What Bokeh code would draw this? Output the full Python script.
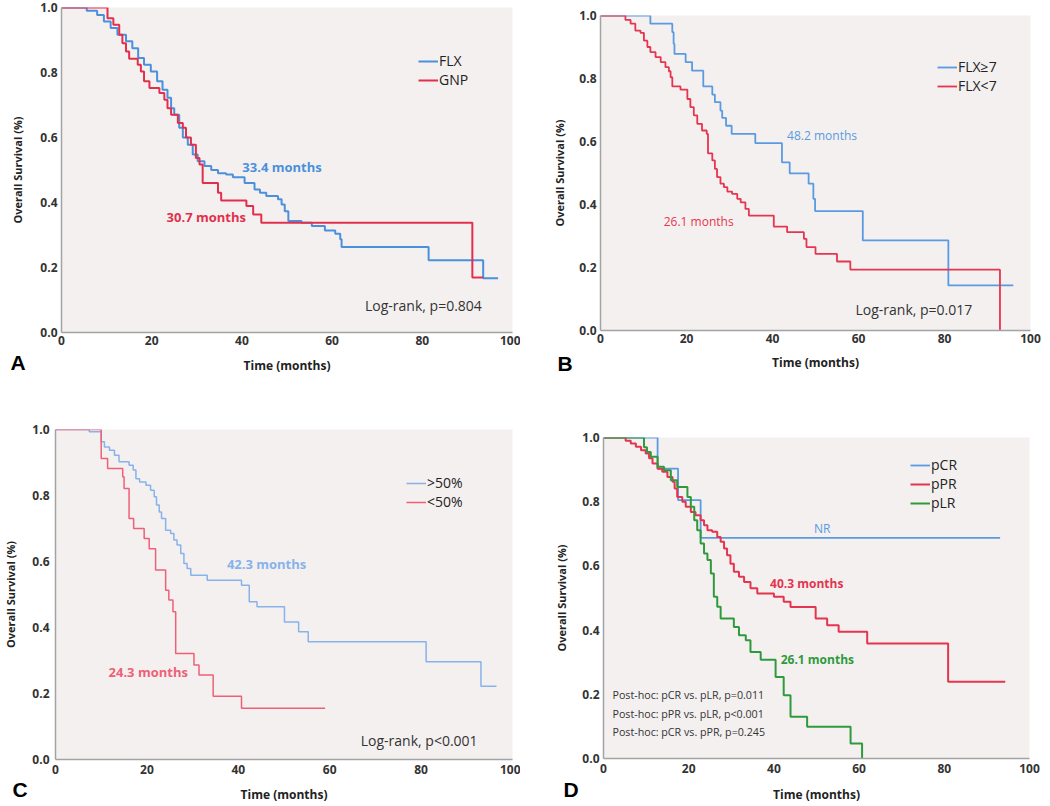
from bokeh.plotting import figure
from bokeh.layouts import column, row
from bokeh.models import Range1d, Label, Legend, LegendItem, FixedTicker, PrintfTickFormatter, Title
from bokeh.embed import file_html
from bokeh.resources import INLINE

# ---------------- data (time in months, survival fraction) ----------------
x_ticks = [0, 20, 40, 60, 80, 100]
y_ticks = [0.0, 0.2, 0.4, 0.6, 0.8, 1.0]

a_flx = [(0, 1.0), (5.6, 0.99), (7.9, 0.977), (9.4, 0.957), (10.9, 0.937), (12.4, 0.916),
         (14.3, 0.896), (15.7, 0.875), (17.0, 0.845), (18.3, 0.824), (19.8, 0.803), (21.2, 0.773),
         (22.4, 0.747), (23.5, 0.722), (24.3, 0.69), (25.0, 0.67), (26.1, 0.63), (26.9, 0.60),
         (28.0, 0.578), (29.1, 0.548), (30.2, 0.527), (31.7, 0.512), (33.2, 0.50), (34.7, 0.49),
         (36.5, 0.486), (38.0, 0.478), (40.6, 0.46), (42.8, 0.44), (44.0, 0.43), (45.4, 0.42),
         (48.0, 0.41), (48.8, 0.394), (49.5, 0.373), (50.3, 0.343), (53.2, 0.338), (55.5, 0.328),
         (58.4, 0.314), (60.7, 0.304), (61.8, 0.287), (62.1, 0.263), (81.4, 0.222), (93.5, 0.167),
         (96.8, 0.167)]
a_gnp = [(0, 1.0), (10.2, 0.967), (11.5, 0.947), (12.8, 0.916), (13.5, 0.89), (14.3, 0.865),
         (15.0, 0.842), (16.9, 0.824), (17.6, 0.803), (18.3, 0.773), (19.5, 0.752), (21.7, 0.737),
         (22.8, 0.716), (23.5, 0.69), (24.3, 0.67), (25.8, 0.645), (26.9, 0.63), (27.6, 0.60),
         (28.7, 0.578), (29.8, 0.537), (30.6, 0.517), (31.3, 0.46), (34.7, 0.43), (35.4, 0.406),
         (41.0, 0.389), (42.5, 0.363), (44.3, 0.338), (91.1, 0.169), (93.5, 0.169)]

b_hi = [(0, 1.0), (11.6, 0.974), (16.7, 0.947), (17.0, 0.91), (17.2, 0.878), (19.8, 0.852),
        (21.3, 0.825), (23.9, 0.775), (26.0, 0.749), (26.6, 0.725), (27.9, 0.698), (28.3, 0.675),
        (29.2, 0.65), (30.5, 0.624), (36.0, 0.595), (42.2, 0.534), (44.0, 0.499), (48.4, 0.466),
        (49.5, 0.418), (49.9, 0.379), (61.0, 0.286), (80.9, 0.143), (96.0, 0.143)]
b_lo = [(0, 1.0), (5.8, 0.986), (7.0, 0.974), (8.1, 0.952), (9.3, 0.945), (10.1, 0.92),
        (10.9, 0.9), (11.6, 0.884), (12.8, 0.868), (14.0, 0.852), (15.1, 0.836), (15.9, 0.823),
        (16.3, 0.804), (16.7, 0.775), (18.6, 0.765), (20.2, 0.735), (20.9, 0.709), (21.7, 0.683),
        (22.5, 0.656), (23.6, 0.635), (24.7, 0.624), (25.0, 0.562), (26.0, 0.54), (26.6, 0.513),
        (27.1, 0.487), (27.9, 0.466), (28.7, 0.455), (29.5, 0.441), (30.6, 0.434), (31.8, 0.418),
        (32.6, 0.407), (33.7, 0.386), (34.5, 0.365), (40.3, 0.33), (43.4, 0.312), (47.3, 0.291),
        (47.9, 0.265), (50.0, 0.243), (55.0, 0.219), (58.1, 0.193), (92.9, 0.0)]

c_hi = [(0, 1.0), (7.4, 0.993), (10.0, 0.963), (10.7, 0.947), (11.8, 0.937), (12.9, 0.922),
        (13.9, 0.902), (16.1, 0.892), (17.0, 0.877), (17.6, 0.851), (18.4, 0.841), (19.8, 0.831),
        (20.8, 0.816), (21.6, 0.796), (22.1, 0.771), (22.7, 0.75), (23.2, 0.73), (24.1, 0.695),
        (25.2, 0.685), (25.9, 0.665), (26.6, 0.65), (27.4, 0.624), (28.1, 0.594), (28.8, 0.579),
        (29.6, 0.558), (33.2, 0.543), (40.7, 0.528), (42.4, 0.478), (44.1, 0.463), (50.1, 0.417),
        (53.2, 0.387), (55.3, 0.357), (81.1, 0.296), (93.1, 0.222), (96.5, 0.222)]
c_lo = [(0, 1.0), (10.0, 0.912), (11.4, 0.882), (14.7, 0.857), (15.0, 0.821), (16.1, 0.73),
        (17.1, 0.70), (19.4, 0.67), (20.5, 0.639), (21.9, 0.574), (24.1, 0.513), (24.8, 0.483),
        (25.7, 0.448), (26.3, 0.321), (30.3, 0.286), (31.4, 0.256), (34.5, 0.192), (40.7, 0.155),
        (59.0, 0.155)]

d_pcr = [(0, 1.0), (12.7, 0.903), (17.5, 0.805), (22.8, 0.687), (93.1, 0.687)]
d_ppr = [(0, 1.0), (5.2, 0.99), (6.4, 0.981), (7.6, 0.971), (8.8, 0.96), (9.9, 0.95), (10.7, 0.935),
         (11.5, 0.919), (12.7, 0.903), (13.8, 0.893), (15.0, 0.877), (16.2, 0.862), (16.7, 0.841),
         (17.3, 0.815), (18.5, 0.80), (19.3, 0.784), (20.5, 0.768), (21.6, 0.758), (22.8, 0.742),
         (23.6, 0.727), (24.4, 0.711), (25.5, 0.706), (26.7, 0.69), (27.5, 0.675), (28.3, 0.654),
         (29.0, 0.633), (29.8, 0.607), (30.6, 0.582), (31.8, 0.566), (33.0, 0.55), (34.5, 0.53),
         (36.1, 0.514), (40.0, 0.504), (42.3, 0.488), (43.9, 0.472), (49.8, 0.436), (52.5, 0.415),
         (55.2, 0.395), (61.9, 0.358), (80.9, 0.239), (94.3, 0.239)]
d_plr = [(0, 1.0), (9.5, 0.97), (10.2, 0.955), (11.1, 0.94), (12.7, 0.909), (14.2, 0.898),
         (15.8, 0.867), (17.3, 0.846), (19.7, 0.815), (20.5, 0.784), (21.3, 0.742), (22.0, 0.711),
         (22.8, 0.67), (23.6, 0.639), (24.4, 0.618), (25.2, 0.576), (25.9, 0.504), (26.7, 0.473),
         (27.5, 0.436), (30.6, 0.41), (31.8, 0.384), (33.4, 0.368), (34.5, 0.332), (36.9, 0.308),
         (40.4, 0.254), (42.3, 0.197), (43.9, 0.13), (47.8, 0.099), (58.0, 0.047), (60.7, 0.0)]

FONT = "Open Sans"
BG = "#f4f0f0"
TXT = "#333333"


def make_fig(w, h, left, right, top, bottom, xstd, xlstd, ystd, ylstd):
    p = figure(width=w, height=h, x_range=Range1d(0, 100), y_range=Range1d(0, 1.0),
               output_backend="svg", toolbar_location=None,
               min_border_left=left, min_border_right=right,
               min_border_top=top, min_border_bottom=bottom)
    p.frame_align = False
    p.background_fill_color = BG
    p.border_fill_color = "white"
    p.outline_line_color = None
    p.grid.visible = False
    p.xaxis.ticker = FixedTicker(ticks=x_ticks)
    p.yaxis.ticker = FixedTicker(ticks=y_ticks)
    p.xaxis.formatter = PrintfTickFormatter(format="%d")
    p.yaxis.formatter = PrintfTickFormatter(format="%.1f")
    p.xaxis.axis_label = "Time (months)"
    p.yaxis.axis_label = "Overall Survival (%)"
    for ax in p.axis:
        ax.axis_line_color = "#a3a3a3"
        ax.axis_line_width = 1.5
        ax.major_tick_line_color = None
        ax.minor_tick_line_color = None
        ax.major_tick_out = 0
        ax.major_tick_in = 0
        ax.major_label_text_font = FONT
        ax.major_label_text_font_style = "bold"
        ax.major_label_text_font_size = "12px"
        ax.major_label_text_color = TXT
        ax.axis_label_text_font = FONT
        ax.axis_label_text_font_style = "bold"
        ax.axis_label_text_color = "#222222"
    p.xaxis.axis_label_text_font_size = "12px"
    p.yaxis.axis_label_text_font_size = "11px"
    p.xaxis.major_label_standoff = xstd
    p.xaxis.axis_label_standoff = xlstd
    p.yaxis.major_label_standoff = ystd
    p.yaxis.axis_label_standoff = ylstd
    return p


def curve(p, pts, color, width):
    xs = [a for a, b in pts]
    ys = [b for a, b in pts]
    return p.step(xs, ys, mode="after", line_color=color, line_width=width)


def note(p, x, y, text, color, size="13px", style="bold"):
    p.add_layout(Label(x=x, y=y, text=text, text_color=color, text_font=FONT,
                       text_font_size=size, text_font_style=style,
                       text_baseline="middle", text_align="left"))


def letter(p, text, offset, standoff):
    p.add_layout(Title(text=text, align="left", vertical_align="top", offset=offset,
                       standoff=standoff, text_font="Liberation Sans", text_font_size="21px",
                       text_font_style="bold", text_color="black"), "below")


def legend(p, items, loc, spacing=-8):
    lg = Legend(items=[LegendItem(label=t, renderers=[r]) for t, r in items], location=loc,
                background_fill_alpha=0, border_line_color=None, padding=0, margin=0,
                spacing=spacing, glyph_width=20, glyph_height=14, label_height=14,
                label_standoff=1, label_text_font=FONT, label_text_font_size="14px",
                label_text_color="#222222")
    p.add_layout(lg)


# ---------------- Panel A ----------------
BLUE_A, RED_A = "#4a90dc", "#e2304c"
pA = make_fig(520, 400, 61, 8, 7, 68, 3, 9, 4, 12)
rA1 = curve(pA, a_flx, BLUE_A, 2)
rA2 = curve(pA, a_gnp, RED_A, 2)
legend(pA, [("FLX", rA1), ("GNP", rA2)], (357, 243))
note(pA, 40.1, 0.51, "33.4 months", BLUE_A)
note(pA, 23.3, 0.356, "30.7 months", RED_A)
note(pA, 67.3, 0.082, "Log-rank, p=0.804", TXT, size="14px", style="normal")
letter(pA, "A", -51, -52)

# ---------------- Panel B ----------------
BLUE_B, RED_B = "#5a9ae0", "#e6354f"
pB = make_fig(529, 400, 80, 19, 15, 70, 3, 8, 4, 9)
rB1 = curve(pB, b_hi, BLUE_B, 1.8)
rB2 = curve(pB, b_lo, RED_B, 1.8)
legend(pB, [("FLX\u22657", rB1), ("FLX<7", rB2)], (337, 235))
note(pB, 43.4, 0.619, "48.2 months", BLUE_B, size="12px", style="normal")
note(pB, 14.7, 0.346, "26.1 months", RED_B, size="12px", style="normal")
note(pB, 59.3, 0.066, "Log-rank, p=0.017", TXT, size="14px", style="normal")
letter(pB, "B", -43, -44)

# ---------------- Panel C ----------------
BLUE_C, RED_C = "#86b3ea", "#ee6076"
pC = make_fig(520, 405, 53, 8, 29, 46, 5, 9, 6, 11)
rC1 = curve(pC, c_hi, BLUE_C, 1.5)
rC2 = curve(pC, c_lo, RED_C, 1.5)
legend(pC, [(">50%", rC1), ("<50%", rC2)], (351, 248))
note(pC, 37.5, 0.592, "42.3 months", BLUE_C)
note(pC, 11.6, 0.266, "24.3 months", RED_C)
note(pC, 66.8, 0.059, "Log-rank, p<0.001", TXT, size="14px", style="normal")
letter(pC, "C", -43, -56)

# ---------------- Panel D ----------------
BLUE_D, RED_D, GREEN_D = "#5a9ae0", "#e3354f", "#2e9a3c"
pD = make_fig(529, 405, 83, 20, 37, 47, 5, 10, 4, 10)
rD1 = curve(pD, d_pcr, BLUE_D, 1.8)
rD2 = curve(pD, d_ppr, RED_D, 2)
rD3 = curve(pD, d_plr, GREEN_D, 2)
legend(pD, [("pCR", rD1), ("pPR", rD2), ("pLR", rD3)], (307, 246), spacing=-7)
note(pD, 49.4, 0.717, "NR", BLUE_D, size="12px", style="normal")
note(pD, 39.1, 0.545, "40.3 months", RED_D, size="12px")
note(pD, 41.6, 0.308, "26.1 months", GREEN_D, size="12px")
note(pD, 2.1, 0.197, "Post-hoc: pCR vs. pLR, p=0.011", TXT, size="10.7px", style="normal")
note(pD, 2.1, 0.140, "Post-hoc: pPR vs. pLR, p<0.001", TXT, size="10.7px", style="normal")
note(pD, 2.1, 0.081, "Post-hoc: pCR vs. pPR, p=0.245", TXT, size="10.7px", style="normal")
letter(pD, "D", -40, -56)

layout = column(row(pA, pB), row(pC, pD))
open("out.html", "w").write(file_html(layout, INLINE))
